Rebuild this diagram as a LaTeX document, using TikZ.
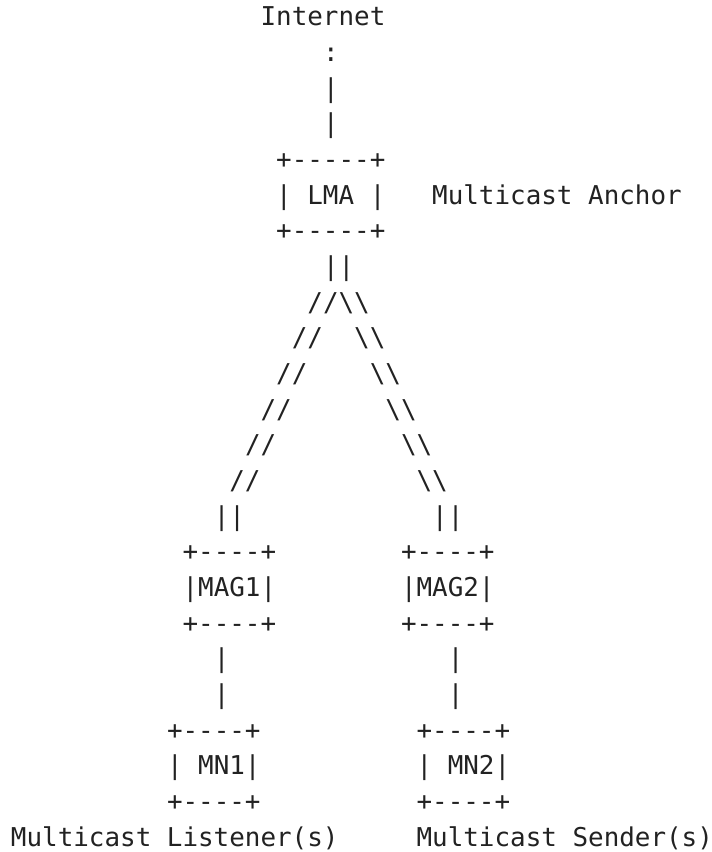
\documentclass[tikz,border=0pt]{standalone}
\usepackage{fontspec}
\setmonofont{DejaVu Sans Mono}
\definecolor{ink}{HTML}{222222}
\begin{document}
\begin{tikzpicture}[x=11.7pt, y=-26.74pt,
  asc/.style={anchor=base west, inner sep=0pt, outer sep=0pt, text=ink,
    font=\ttfamily\fontsize{19.43pt}{26.74pt}\selectfont}]
\useasboundingbox (-8.25pt,19.5pt) rectangle ++(534pt,-639pt);
% Internet uplink
\node[asc] (inet) at (16,0) {Internet};
\node[asc] (i1) at (20,1) {:};
\node[asc] (i2) at (20,2) {|};
\node[asc] (i3) at (20,3) {|};
% LMA
\node[asc] (lmat) at (17,4) {+-----+};
\node[asc] (lma) at (17,5) {| LMA |};
\node[asc] (lmab) at (17,6) {+-----+};
\node[asc] (anchor) at (27,5) {Multicast Anchor};
% tree
\node[asc] (t0) at (20,7) {||};
\node[asc] (t1) at (19,8) {//\textbackslash\textbackslash};
\node[asc] (l2) at (18,9) {//};
\node[asc] (r2) at (22,9) {\textbackslash\textbackslash};
\node[asc] (l3) at (17,10) {//};
\node[asc] (r3) at (23,10) {\textbackslash\textbackslash};
\node[asc] (l4) at (16,11) {//};
\node[asc] (r4) at (24,11) {\textbackslash\textbackslash};
\node[asc] (l5) at (15,12) {//};
\node[asc] (r5) at (25,12) {\textbackslash\textbackslash};
\node[asc] (l6) at (14,13) {//};
\node[asc] (r6) at (26,13) {\textbackslash\textbackslash};
\node[asc] (l7) at (13,14) {||};
\node[asc] (r7) at (27,14) {||};
% MAGs
\node[asc] (mag1t) at (11,15) {+----+};
\node[asc] (mag1) at (11,16) {|MAG1|};
\node[asc] (mag1b) at (11,17) {+----+};
\node[asc] (mag2t) at (25,15) {+----+};
\node[asc] (mag2) at (25,16) {|MAG2|};
\node[asc] (mag2b) at (25,17) {+----+};
% links to MNs
\node[asc] (a1) at (13,18) {|};
\node[asc] (a2) at (13,19) {|};
\node[asc] (b1) at (28,18) {|};
\node[asc] (b2) at (28,19) {|};
% MNs
\node[asc] (mn1t) at (10,20) {+----+};
\node[asc] (mn1) at (10,21) {| MN1|};
\node[asc] (mn1b) at (10,22) {+----+};
\node[asc] (mn2t) at (26,20) {+----+};
\node[asc] (mn2) at (26,21) {| MN2|};
\node[asc] (mn2b) at (26,22) {+----+};
% captions
\node[asc] (lis) at (0,23) {Multicast Listener(s)};
\node[asc] (snd) at (26,23) {Multicast Sender(s)};
\end{tikzpicture}
\end{document}
